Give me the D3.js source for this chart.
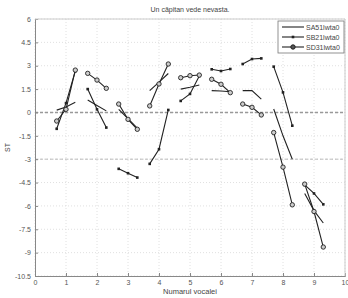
<!DOCTYPE html>
<html><head><meta charset="utf-8">
<script src="https://cdn.jsdelivr.net/npm/d3@7"></script>
<style>body{margin:0;background:#fff}svg{display:block}text{font-family:"Liberation Sans",Arial,sans-serif}</style>
</head><body><svg id="c" width="348" height="298"></svg>
<script>
const title = "Un căpitan vede nevasta.";
const xLabel = "Numarul vocalei";
const yLabel = "ST";
const seriesNames = ["SA51lwta0", "SB21lwta0", "SD31lwta0"];
const xTicks = [0,1,2,3,4,5,6,7,8,9,10];
const yTicks = [6,4.5,3,1.5,0,-1.5,-3,-4.5,-6,-7.5,-9,-10.5];
// each vowel: three samples at i-0.3, i, i+0.3
const xOffsets = [-0.3, 0, 0.3];
const vowels = [1,2,3,4,5,6,7,8,9];
const SA = [[0.15,0.35,0.65],[0.8,0.45,0.1],[0.2,-0.4,-1.0],[1.4,1.95,2.5],[1.5,1.62,1.76],[1.4,1.38,1.33],[1.4,1.4,0.85],[0.22,-1.5,-3.0],[-5.2,-6.3,-7.1]];
const SB = [[-1.05,0.6,2.65],[1.5,0.2,-0.97],[-3.62,-3.9,-4.18],[-3.3,-2.36,0.16],[0.74,1.19,2.34],[2.77,2.66,2.79],[3.11,3.43,3.47],[2.94,1.29,-0.85],[-4.65,-5.2,-5.9]];
const SD = [[-0.55,0.2,2.72],[2.51,2.08,1.55],[0.54,-0.44,-1.08],[0.42,1.83,3.11],[2.23,2.36,2.4],[2.13,1.81,1.27],[0.54,0.33,-0.16],[-1.29,-3.51,-5.93],[-4.6,-6.36,-8.64]];

const svg = d3.select("#c");
const m = {l:35, r:3, t:19, b:22};
const W = 348, H = 298;
const x = d3.scaleLinear().domain([0,10]).range([m.l, W-m.r]);
const y = d3.scaleLinear().domain([-10.5,6]).range([H-m.b, m.t]);

// grid
const g = svg.append("g");
g.selectAll(".gx").data(xTicks).join("line")
 .attr("x1",d=>x(d)).attr("x2",d=>x(d)).attr("y1",y(6)).attr("y2",y(-10.5))
 .attr("stroke","#d8d8d8").attr("stroke-width",0.8).attr("stroke-dasharray","1,2");
g.selectAll(".gy").data(yTicks).join("line")
 .attr("x1",x(0)).attr("x2",x(10)).attr("y1",d=>y(d)).attr("y2",d=>y(d))
 .attr("stroke","#d8d8d8").attr("stroke-width",0.8).attr("stroke-dasharray","1,2");
// reference lines
g.append("line").attr("x1",x(0)).attr("x2",x(10)).attr("y1",y(0)).attr("y2",y(0))
 .attr("stroke","#999").attr("stroke-width",1.4).attr("stroke-dasharray","3,2");
g.append("line").attr("x1",x(0)).attr("x2",x(10)).attr("y1",y(-3)).attr("y2",y(-3))
 .attr("stroke","#bbb").attr("stroke-width",1).attr("stroke-dasharray","3,2");

// axes
const ax = svg.append("g").attr("transform",`translate(0,${y(-10.5)})`)
 .call(d3.axisBottom(x).tickValues(xTicks).tickSize(-3).tickPadding(4).tickFormat(d3.format("d")));
const ay = svg.append("g").attr("transform",`translate(${x(0)},0)`)
 .call(d3.axisLeft(y).tickValues(yTicks).tickSize(-3).tickPadding(4).tickFormat(d=>String(d)));
[ax,ay].forEach(a=>{a.select(".domain").attr("stroke","#888");a.selectAll(".tick line").attr("stroke","#888");
 a.selectAll("text").attr("fill","#555").style("font-size","7px");});
// box top/right
svg.append("line").attr("x1",x(0)).attr("x2",x(10)).attr("y1",y(6)).attr("y2",y(6)).attr("stroke","#ccc");
svg.append("line").attr("x1",x(10)).attr("x2",x(10)).attr("y1",y(6)).attr("y2",y(-10.5)).attr("stroke","#ccc");

// data
const line = d3.line().x(d=>x(d[0])).y(d=>y(d[1]));
const pts = arr => vowels.map((v,i)=>xOffsets.map((o,j)=>[v+o, arr[i][j]]));
const col = "#222";
pts(SA).forEach(p=>svg.append("path").attr("d",line(p)).attr("fill","none").attr("stroke",col).attr("stroke-width",1.1));
pts(SB).forEach(p=>{
  svg.append("path").attr("d",line(p)).attr("fill","none").attr("stroke",col).attr("stroke-width",1.1);
  svg.selectAll(null).data(p).join("rect").attr("x",d=>x(d[0])-1.3).attr("y",d=>y(d[1])-1.3)
   .attr("width",2.6).attr("height",2.6).attr("fill",col);
});
pts(SD).forEach(p=>{
  svg.append("path").attr("d",line(p)).attr("fill","none").attr("stroke",col).attr("stroke-width",1.1);
  svg.selectAll(null).data(p).join("circle").attr("cx",d=>x(d[0])).attr("cy",d=>y(d[1])).attr("r",2.2)
   .attr("fill","#ccc").attr("stroke",col).attr("stroke-width",0.9);
});

// legend
const lg = svg.append("g");
lg.append("rect").attr("x",278).attr("y",21).attr("width",66).attr("height",32).attr("fill","#fff").attr("stroke","#777").attr("stroke-width",0.8);
seriesNames.forEach((n,i)=>{
  const yy = 27 + i*10;
  lg.append("line").attr("x1",282).attr("x2",304).attr("y1",yy).attr("y2",yy).attr("stroke",col).attr("stroke-width",1.1);
  if(i===1) lg.append("rect").attr("x",291.7).attr("y",yy-1.3).attr("width",2.6).attr("height",2.6).attr("fill",col);
  if(i===2) lg.append("circle").attr("cx",293).attr("cy",yy).attr("r",2.2).attr("fill","#555").attr("stroke",col);
  lg.append("text").attr("x",306).attr("y",yy+2.5).text(n).attr("fill","#444").style("font-size","7px");
});

// labels
svg.append("text").attr("x",(x(0)+x(10))/2).attr("y",12).attr("text-anchor","middle").text(title).attr("fill","#444").style("font-size","7px");
svg.append("text").attr("x",(x(0)+x(10))/2).attr("y",294).attr("text-anchor","middle").text(xLabel).attr("fill","#444").style("font-size","7.5px");
svg.append("text").attr("transform",`translate(10,${(y(6)+y(-10.5))/2}) rotate(-90)`).attr("text-anchor","middle").text(yLabel).attr("fill","#444").style("font-size","7px");
</script></body></html>
